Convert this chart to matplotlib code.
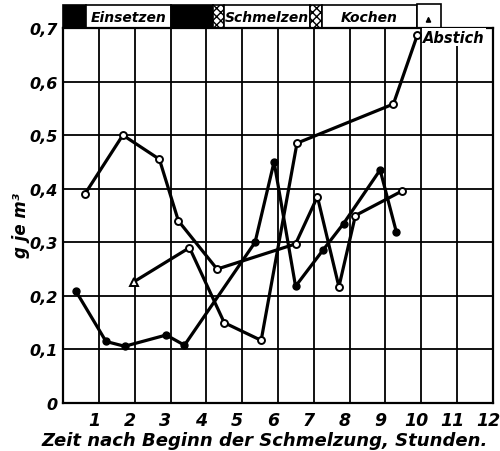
import numpy as np
import matplotlib.pyplot as plt
import matplotlib.transforms as mtransforms
from matplotlib.patches import Rectangle

# Zeit (Stunden) und Gehalt (g je m3)
s1_x = [0.35, 1.2, 1.72, 2.88, 3.39, 5.36, 5.89, 6.49, 7.25, 7.83, 8.85, 9.3]
s1_y = [0.21, 0.115, 0.106, 0.127, 0.108, 0.30, 0.45, 0.218, 0.285, 0.335, 0.435, 0.32]

s2_x = [0.61, 1.67, 2.69, 3.22, 4.3, 6.49, 7.1, 7.7, 8.16, 9.47]
s2_y = [0.39, 0.50, 0.455, 0.34, 0.25, 0.297, 0.385, 0.217, 0.35, 0.396]

s3_x = [1.97, 3.53, 4.5, 5.53, 6.53, 9.22, 9.89]
s3_y = [0.226, 0.29, 0.15, 0.117, 0.485, 0.558, 0.687]

# Verfahrensabschnitte oben (Start, Ende, Art, Text)
phase_start = [0.0, 0.64, 3.02, 4.18, 4.5, 6.88, 7.23]
phase_end = [0.64, 3.02, 4.18, 4.5, 6.88, 7.23, 9.87]
phase_kind = ['black', 'white', 'black', 'hatch', 'white', 'hatch', 'white']
phase_text = ['', 'Einsetzen', '', '', 'Schmelzen', '', 'Kochen']

x_ticks = list(range(1, 13))
y_ticks = [0, 0.1, 0.2, 0.3, 0.4, 0.5, 0.6, 0.7]
y_ticklabels = ['0', '0,1', '0,2', '0,3', '0,4', '0,5', '0,6', '0,7']

font = {'family': 'DejaVu Sans', 'style': 'italic', 'weight': 'bold'}
plt.rc('font', **font)
plt.rcParams['hatch.linewidth'] = 1.0

fig = plt.figure(figsize=(5.0, 4.52), dpi=100)
ax = fig.add_axes([0.126, 0.106, 0.860, 0.830])

ax.set_xlim(0, 12)
ax.set_ylim(0, 0.7)
ax.set_xticks(range(0, 13))
ax.set_xticklabels([''] + [str(t) for t in x_ticks], fontsize=12.5)
ax.set_yticks(y_ticks)
ax.set_yticklabels(y_ticklabels, fontsize=11.5)
ax.tick_params(axis='x', length=0, pad=6)
ax.tick_params(axis='y', length=0, pad=4)
shift = mtransforms.ScaledTranslation(-5 / 100, 0, fig.dpi_scale_trans)
for lab in ax.get_xticklabels():
    lab.set_transform(lab.get_transform() + shift)
ax.grid(color='black', linewidth=1.3)
for sp in ax.spines.values():
    sp.set_linewidth(1.6)

lw = 2.3
ax.plot(s1_x, s1_y, color='black', lw=lw, marker='o', ms=5, mfc='black', mec='black', zorder=3)
ax.plot(s2_x, s2_y, color='black', lw=lw, marker='o', ms=5, mfc='white', mec='black', mew=1.4, zorder=3)
ax.plot(s3_x, s3_y, color='black', lw=lw, zorder=3)
ax.plot(s3_x[1:], s3_y[1:], ls='none', marker='o', ms=5, mfc='white', mec='black', mew=1.4, zorder=4)
ax.plot(s3_x[:1], s3_y[:1], ls='none', marker='^', ms=6, mfc='white', mec='black', mew=1.4, zorder=4)

# Balken oben
top = 0.742
for a, b, k, t in zip(phase_start, phase_end, phase_kind, phase_text):
    if k == 'black':
        r = Rectangle((a, 0.7), b - a, top - 0.7, facecolor='black', edgecolor='black', lw=1.2, clip_on=False)
    elif k == 'hatch':
        r = Rectangle((a, 0.7), b - a, top - 0.7, facecolor='white', edgecolor='black', hatch='xxxx', lw=1.2, clip_on=False)
    else:
        r = Rectangle((a, 0.7), b - a, top - 0.7, facecolor='white', edgecolor='black', lw=1.2, clip_on=False)
    ax.add_patch(r)
    if t:
        ax.text((a + b) / 2, (0.7 + top) / 2, t, ha='center', va='center', fontsize=10)
ax.add_patch(Rectangle((9.87, 0.7), 0.68, 0.045, facecolor='white', edgecolor='black', lw=1.2, clip_on=False))
ax.annotate('', xy=(10.2, 0.727), xytext=(10.2, 0.707), annotation_clip=False,
            arrowprops=dict(arrowstyle='-|>', color='black', lw=1.2, mutation_scale=7))

ax.text(10.05, 0.683, 'Abstich', ha='left', va='center', fontsize=10.5, zorder=5,
        bbox=dict(facecolor='white', edgecolor='none', pad=1))

ax.set_ylabel('g je m³', fontsize=12, fontweight='bold')
ax.yaxis.set_label_coords(-0.077, 0.475)
ax.set_xlabel('Zeit nach Beginn der Schmelzung, Stunden.', fontsize=13, fontweight='bold', labelpad=2)
ax.xaxis.set_label_coords(0.47, -0.075)

fig.savefig('out.png', dpi=100)
